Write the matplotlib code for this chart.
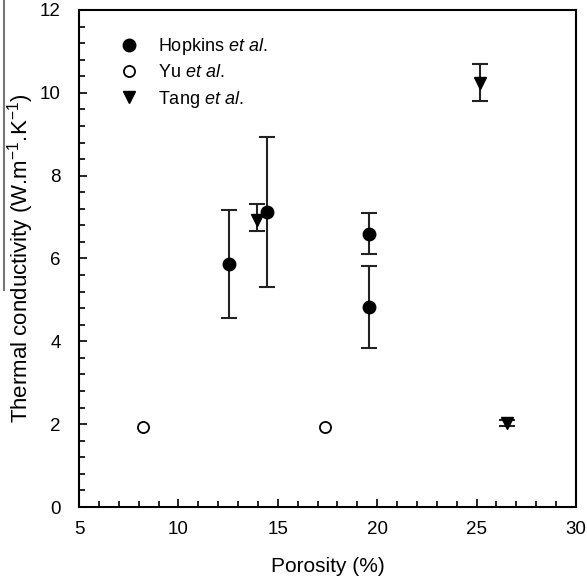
import numpy as np
import matplotlib
matplotlib.use("Agg")
import matplotlib.pyplot as plt
from matplotlib.ticker import MultipleLocator

plt.rcParams['font.family'] = ['Liberation Sans', 'DejaVu Sans']
plt.rcParams['mathtext.fontset'] = 'custom'
plt.rcParams['mathtext.rm'] = 'Liberation Sans'
plt.rcParams['mathtext.it'] = 'Liberation Sans:italic'

# Hopkins et al. (value, lower/upper error bar ends)
hop_x = [12.55, 14.45, 19.6, 19.6]
hop_y = [5.86, 7.13, 6.58, 4.83]
hop_lo = [4.56, 5.32, 6.11, 3.83]
hop_hi = [7.16, 8.93, 7.11, 5.83]

# Yu et al.
yu_x = [8.2, 17.35]
yu_y = [1.92, 1.92]

# Tang et al.
tang_x = [13.95, 25.15, 26.55]
tang_y = [6.93, 10.23, 2.02]
tang_lo = [6.66, 9.80, 1.95]
tang_hi = [7.32, 10.69, 2.09]

fig = plt.figure(figsize=(5.87, 5.86), dpi=100)
ax = fig.add_axes([0.1346, 0.1348, 0.8466, 0.8482])

def yerr(y, lo, hi):
    y = np.array(y)
    return [y - np.array(lo), np.array(hi) - y]

ebkw = dict(fmt='none', ecolor='#222222', elinewidth=1.5, capsize=5.5, capthick=1.5, zorder=2)
ax.errorbar(hop_x, hop_y, yerr=yerr(hop_y, hop_lo, hop_hi), **ebkw)
ax.errorbar(tang_x, tang_y, yerr=yerr(tang_y, tang_lo, tang_hi), **ebkw)

ax.plot(hop_x, hop_y, 'o', color='black', ms=9, ls='none', zorder=3,
        label=r'Hopkins $\mathit{et\ al.}$')
ax.plot(yu_x, yu_y, 'o', mfc='white', mec='black', mew=1.3, ms=8, ls='none', zorder=3,
        label=r'Yu $\mathit{et\ al.}$')
ax.plot(tang_x, tang_y, 'v', color='black', ms=9, ls='none', zorder=3,
        label=r'Tang $\mathit{et\ al.}$')

ax.set_xlim(5, 30)
ax.set_ylim(0, 12)
ax.xaxis.set_major_locator(MultipleLocator(5))
ax.xaxis.set_minor_locator(MultipleLocator(1))
ax.yaxis.set_major_locator(MultipleLocator(2))
ax.yaxis.set_minor_locator(MultipleLocator(0.4))
ax.tick_params(which='both', direction='in', top=False, right=False, labelsize=13.5, width=1.2)
ax.tick_params(which='major', length=6)
ax.tick_params(which='minor', length=4)
ax.tick_params(axis='x', which='major', pad=10)
ax.tick_params(axis='y', which='major', pad=13)
for s in ax.spines.values():
    s.set_linewidth(1.5)

ax.set_xlabel('Porosity (%)', fontsize=15, labelpad=14)
ax.set_ylabel(r'Thermal conductivity (W.m$^{-1}$.K$^{-1}$)', fontsize=16)
ax.yaxis.set_label_coords(-0.087, 0.5)

ax.legend(loc='upper left', bbox_to_anchor=(0.04, 0.98), frameon=False, fontsize=13,
          handletextpad=0.9, labelspacing=0.4, handlelength=1.5)

# thin gray line at left edge, as in the source image
fig.add_artist(plt.Line2D([0.006, 0.006], [1.0, 0.505], color='#777777', lw=1.5))

fig.savefig('out.png', dpi=100)
